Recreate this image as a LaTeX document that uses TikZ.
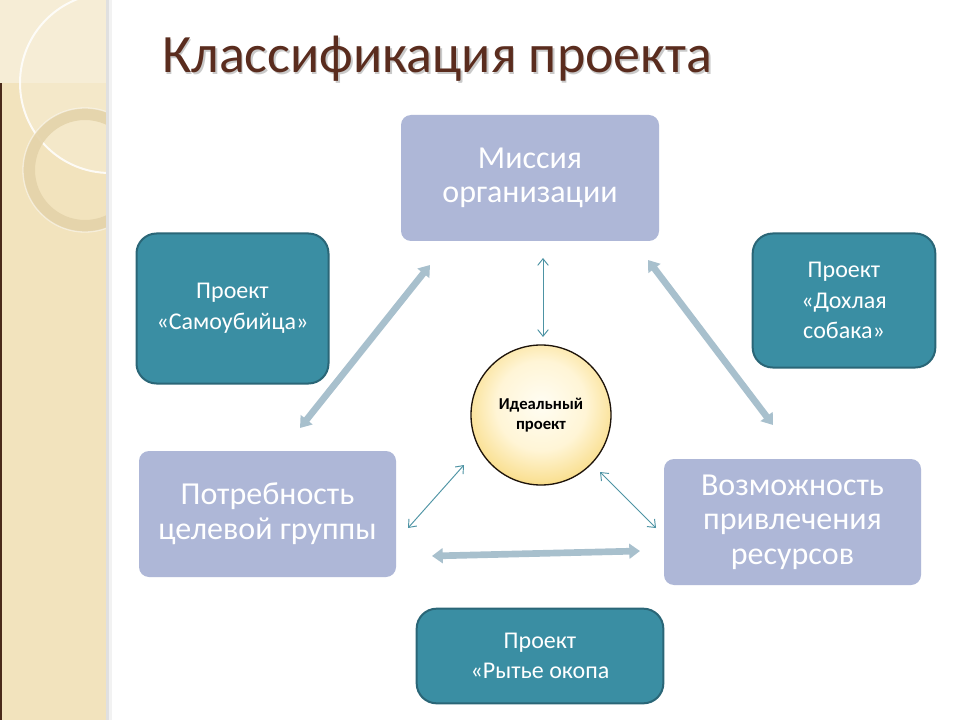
\documentclass[tikz,border=0pt]{standalone}
\usepackage{fontspec}
\setmainfont{Carlito}
\usetikzlibrary{arrows.meta,shadows}
\definecolor{strip}{HTML}{F2E3BD}
\definecolor{striplight}{HTML}{F6EDD6}
\definecolor{stripdark}{HTML}{4A2A1A}
\definecolor{ringc}{HTML}{E4D3AA}
\definecolor{titlec}{HTML}{5A2C1E}
\definecolor{lav}{HTML}{AEB7D7}
\definecolor{tealf}{HTML}{3A8EA3}
\definecolor{teald}{HTML}{2A6677}
\definecolor{thickc}{HTML}{A8C0CD}
\definecolor{thinc}{HTML}{4D93A4}
\definecolor{ballA}{HTML}{FFFDF3}
\definecolor{ballB}{HTML}{FFF5D6}
\definecolor{ballC}{HTML}{FAE196}
\definecolor{ballD}{HTML}{F0C243}
\definecolor{ballE}{HTML}{E2AE2C}
\pgfdeclareradialshading{ballsh}{\pgfpoint{0bp}{4bp}}{color(0bp)=(ballA); color(16bp)=(ballB); color(26.5bp)=(ballC); color(33bp)=(ballD); color(36bp)=(ballE); color(100bp)=(ballE)}
\tikzset{
  lavbox/.style={rounded corners=7.5pt, fill=lav, text=white, align=center,
    font=\fontsize{24}{26}\selectfont, inner sep=0pt},
  tealbox/.style={rounded corners=15pt, fill=tealf, draw=teald, line width=1.5pt,
    text=white, align=center, font=\fontsize{18}{23}\selectfont, inner sep=0pt},
  thickarrow/.style={draw=thickc, line width=5pt,
    {Triangle[width=11pt,length=8pt]}-{Triangle[width=11pt,length=8pt]}},
  thinarrow/.style={draw=thinc, line width=0.7pt,
    {Straight Barb[length=5pt,width=8pt]}-{Straight Barb[length=5pt,width=8pt]}},
}
\begin{document}
\begin{tikzpicture}[x=0.75pt,y=-0.75pt]
\useasboundingbox (0,0) rectangle (960,720);
\fill[white] (0,0) rectangle (960,720);
% left decorative strip
\begin{scope}
  \clip (0,0) rectangle (106,720);
  \fill[strip] (0,0) rectangle (106,720);
  \fill[striplight] (0,0) rectangle (106,83);
  \fill[striplight, opacity=0.5] (110,83) circle[radius=90];
  \fill[stripdark] (0,83) rectangle (2,720);
  \draw[white, opacity=0.85, line width=1.5pt] (110,83) circle[radius=90];
  \draw[ringc, line width=9pt, opacity=0.9] (85,170) circle[radius=56];
  \draw[white, opacity=0.5, line width=1pt] (85,170) circle[radius=62];
\end{scope}
\fill[black!12] (106,0) rectangle (109,720);
\fill[black!5] (109,0) rectangle (112,720);
% title
\node[anchor=base west, text=black!35, opacity=0.6, font=\fontsize{40.5}{46}\selectfont, inner sep=0pt] at (163.5,74.5) {Классификация проекта};
\node (title) [anchor=base west, text=titlec, font=\fontsize{40.5}{46}\selectfont, inner sep=0pt] at (162,73) {Классификация проекта};
% main boxes
\node (mission) [lavbox, minimum width=193.5pt, minimum height=94.5pt] at (530,178) {Миссия\\организации};
\node (need) [lavbox, minimum width=192.75pt, minimum height=94.5pt] at (267.5,514) {Потребность\\целевой группы};
\node (res) [lavbox, minimum width=192.75pt, minimum height=94.5pt] at (792.5,522) {Возможность\\привлечения\\ресурсов};
% teal boxes
\node (suicide) [tealbox, minimum width=144pt, minimum height=112.5pt] at (232.5,308.5) {Проект\\«Самоубийца»};
\node (dog) [tealbox, minimum width=137pt, minimum height=100.5pt] at (844,300.5) {Проект\\«Дохлая\\собака»};
\node (trench) [tealbox, minimum width=185pt, minimum height=71pt] at (540,656) {Проект\\«Рытье окопа};
% center ball
\shade[shading=ballsh] (541,415) circle[radius=70];
\node (ideal) [circle, draw=black!85!brown, line width=1pt, minimum size=105pt, align=center,
  font=\bfseries\fontsize{12.5}{15}\selectfont, inner sep=0pt] at (541,415) {Идеальный\\проект};
% arrow end coordinates
\coordinate (a1) at (300,428); \coordinate (a2) at (430,265);
\coordinate (b1) at (648,260); \coordinate (b2) at (773,425);
\coordinate (c1) at (432,556); \coordinate (c2) at (640,551);
\coordinate (d1) at (543,258); \coordinate (d2) at (543,337);
\coordinate (e1) at (408,528); \coordinate (e2) at (464,465);
\coordinate (f1) at (600,472); \coordinate (f2) at (656,528);
% thick arrows
\draw[thickarrow] (a1) -- (a2);
\draw[thickarrow] (b1) -- (b2);
\draw[thickarrow] (c1) -- (c2);
% thin arrows
\draw[thinarrow] (d1) -- (d2);
\draw[thinarrow] (e1) -- (e2);
\draw[thinarrow] (f1) -- (f2);
\end{tikzpicture}
\end{document}
